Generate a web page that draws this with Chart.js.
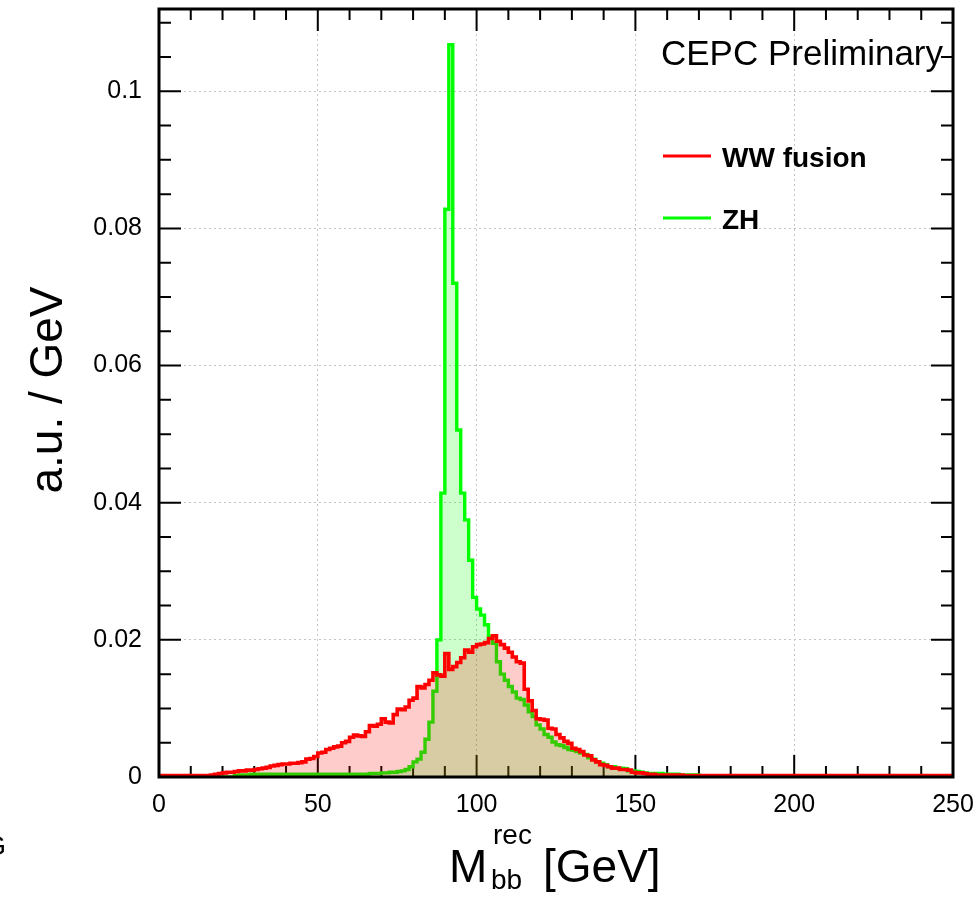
<!DOCTYPE html>
<html>
<head>
<meta charset="utf-8">
<script src="https://cdn.jsdelivr.net/npm/chart.js@4.4.0/dist/chart.umd.min.js"></script>
<style>
  html, body { margin: 0; padding: 0; background: #fff; }
</style>
</head>
<body>
<canvas id="myChart" width="980" height="898"></canvas>
<script>
// histogram: 200 bins of 1.25 GeV from 0 to 250 GeV, values in a.u./GeV
const binWidth = 1.25;

const wwFusion = [
  0.0002, 0.0002, 0.0002, 0.0002, 0.0002, 0.0002, 0.0002, 0.0002, 0.0002, 0.0002,
  0.0002, 0.0002, 0.0002, 0.0003, 0.0004, 0.0005, 0.0006, 0.0007, 0.0007, 0.0008,
  0.0009, 0.0009, 0.0010, 0.0010, 0.0011, 0.0012, 0.0013, 0.0014, 0.0016, 0.0017,
  0.0018, 0.0019, 0.0019, 0.0020, 0.0020, 0.0021, 0.0022, 0.0026, 0.0027, 0.0030,
  0.0035, 0.0036, 0.0040, 0.0042, 0.0044, 0.0045, 0.0050, 0.0052, 0.0058, 0.0061,
  0.0060, 0.0059, 0.0066, 0.0075, 0.0074, 0.0077, 0.0085, 0.0080, 0.0079, 0.0091,
  0.0099, 0.0098, 0.0102, 0.0112, 0.0115, 0.0132, 0.0130, 0.0135, 0.0141, 0.0152,
  0.0149, 0.0147, 0.0180, 0.0157, 0.0161, 0.0167, 0.0174, 0.0185, 0.0182, 0.0190,
  0.0193, 0.0194, 0.0196, 0.0202, 0.0206, 0.0198, 0.0193, 0.0188, 0.0182, 0.0175,
  0.0168, 0.0166, 0.0128, 0.0111, 0.0097, 0.0085, 0.0084, 0.0083, 0.0071, 0.0070,
  0.0062, 0.0057, 0.0052, 0.0049, 0.0042, 0.0040, 0.0037, 0.0032, 0.0031, 0.0025,
  0.0022, 0.0018, 0.0017, 0.0015, 0.0013, 0.0013, 0.0011, 0.0011, 0.0010, 0.0007,
  0.0006, 0.0006, 0.0005, 0.0004, 0.0004, 0.0003, 0.0003, 0.0003, 0.0003, 0.0003,
  0.0003, 0.0003, 0.0002, 0.0002, 0.0002, 0.0002, 0.0002, 0.0002, 0.0002, 0.0002,
  0.0002, 0.0002, 0.0002, 0.0002, 0.0002, 0.0002, 0.0002, 0.0002, 0.0002, 0.0002,
  0.0002, 0.0002, 0.0002, 0.0002, 0.0002, 0.0002, 0.0002, 0.0002, 0.0002, 0.0002,
  0.0002, 0.0002, 0.0002, 0.0002, 0.0002, 0.0002, 0.0002, 0.0002, 0.0002, 0.0002,
  0.0002, 0.0002, 0.0002, 0.0002, 0.0002, 0.0002, 0.0002, 0.0002, 0.0002, 0.0002,
  0.0002, 0.0002, 0.0002, 0.0002, 0.0002, 0.0002, 0.0002, 0.0002, 0.0002, 0.0002,
  0.0002, 0.0002, 0.0002, 0.0002, 0.0002, 0.0002, 0.0002, 0.0002, 0.0002, 0.0002
];

const zh = [
  0, 0, 0, 0, 0, 0, 0, 0, 0, 0,
  0, 0, 0, 0, 0, 0, 0, 0, 0, 0.0002,
  0.0003, 0.0003, 0.0003, 0.0004, 0.0004, 0.0004, 0.0004, 0.0004, 0.0004, 0.0004,
  0.0004, 0.0004, 0.0004, 0.0004, 0.0004, 0.0004, 0.0004, 0.0004, 0.0004, 0.0004,
  0.0004, 0.0004, 0.0004, 0.0004, 0.0004, 0.0004, 0.0004, 0.0004, 0.0004, 0.0004,
  0.0004, 0.0004, 0.0004, 0.0005, 0.0005, 0.0005, 0.0006, 0.0006, 0.0007, 0.0007,
  0.0008, 0.0009, 0.0011, 0.0015, 0.0022, 0.0026, 0.0036, 0.0055, 0.0080, 0.0125,
  0.0200, 0.0414, 0.0828, 0.1068, 0.0720, 0.0506, 0.0414, 0.0375, 0.0316, 0.0262,
  0.0245, 0.0236, 0.0222, 0.0205, 0.0195, 0.0168, 0.0150, 0.0141, 0.0132, 0.0124,
  0.0115, 0.0113, 0.0105, 0.0095, 0.0088, 0.0076, 0.0070, 0.0062, 0.0058, 0.0051,
  0.0047, 0.0046, 0.0043, 0.0040, 0.0039, 0.0037, 0.0035, 0.0033, 0.0028, 0.0026,
  0.0022, 0.0020, 0.0018, 0.0015, 0.0015, 0.0013, 0.0013, 0.0012, 0.0009, 0.0009,
  0.0008, 0.0007, 0.0006, 0.0005, 0.0005, 0.0005, 0.0005, 0.0004, 0.0004, 0.0004,
  0.0004, 0.0003, 0.0003, 0.0003, 0.0003, 0.0003, 0.0002, 0.0002, 0.0002, 0.0002,
  0.0002, 0.0001, 0.0001, 0.0001, 0.0001, 0.0001, 0.0001, 0.0001, 0.0001, 0.0001,
  0.0001, 0, 0, 0, 0, 0, 0, 0, 0, 0,
  0, 0, 0, 0, 0, 0, 0, 0, 0, 0,
  0, 0, 0, 0, 0, 0, 0, 0, 0, 0,
  0, 0, 0, 0, 0, 0, 0, 0, 0, 0,
  0, 0, 0, 0, 0, 0, 0, 0, 0, 0
];

const xTickLabels = [0, 50, 100, 150, 200, 250];
const yTickLabels = [0, 0.02, 0.04, 0.06, 0.08, 0.1];

const FONT = 'Liberation Sans, Arial, sans-serif';

// bin low edges + the closing edge, for a step line
function toSteps(values) {
  const pts = values.map((v, i) => ({ x: i * binWidth, y: v }));
  pts.push({ x: values.length * binWidth, y: values[values.length - 1] });
  return pts;
}

// keep the plot box fixed, no extra room for the edge labels
function fixSize(scale, w, h) {
  if (w) scale.width = w;
  if (h) scale.height = h;
  scale.paddingLeft = 0;
  scale.paddingRight = 0;
  scale.paddingTop = 0;
  scale.paddingBottom = 0;
}

// ROOT style: ticks inside on all four sides, thick frame, extra texts
const rootFrame = {
  id: 'rootFrame',
  beforeDatasetsDraw(chart) {
    const { ctx, chartArea: a, scales: { x, y } } = chart;
    ctx.save();
    ctx.strokeStyle = '#000';
    ctx.lineWidth = 2;
    ctx.beginPath();
    for (let v = 0; v <= 250; v += 10) {
      const px = x.getPixelForValue(v);
      const len = v % 50 === 0 ? 22 : 11;
      ctx.moveTo(px, a.bottom); ctx.lineTo(px, a.bottom - len);
      ctx.moveTo(px, a.top); ctx.lineTo(px, a.top + len);
    }
    for (let k = 0; k <= 22; k++) {
      const py = y.getPixelForValue(k * 0.005);
      const len = k % 4 === 0 ? 22 : 12;
      ctx.moveTo(a.left, py); ctx.lineTo(a.left + len, py);
      ctx.moveTo(a.right, py); ctx.lineTo(a.right - len, py);
    }
    ctx.stroke();
    ctx.restore();
  },
  afterDraw(chart) {
    const { ctx, chartArea: a } = chart;
    ctx.save();
    ctx.strokeStyle = '#000';
    ctx.lineWidth = 3;
    ctx.strokeRect(a.left, a.top, a.right - a.left, a.bottom - a.top);

    ctx.fillStyle = '#000';
    ctx.textAlign = 'left';
    ctx.textBaseline = 'alphabetic';
    ctx.font = '35px ' + FONT;
    ctx.fillText('CEPC Preliminary', 661, 65);

    // legend
    ctx.lineWidth = 3;
    ctx.strokeStyle = '#ff0000';
    ctx.beginPath(); ctx.moveTo(663, 156); ctx.lineTo(711, 156); ctx.stroke();
    ctx.strokeStyle = '#00ff00';
    ctx.beginPath(); ctx.moveTo(663, 218); ctx.lineTo(711, 218); ctx.stroke();
    ctx.font = 'bold 28px ' + FONT;
    ctx.fillText('WW fusion', 722, 167);
    ctx.fillText('ZH', 722, 229);

    // x title with super/subscript
    ctx.font = '46px ' + FONT;
    ctx.fillText('M', 449, 882);
    ctx.fillText('[GeV]', 543, 882);
    ctx.font = '28px ' + FONT;
    ctx.fillText('rec', 493, 844);
    ctx.fillText('bb', 491, 889);

    // y title
    ctx.save();
    ctx.translate(62, 390);
    ctx.rotate(-Math.PI / 2);
    ctx.textAlign = 'center';
    ctx.font = '46px ' + FONT;
    ctx.fillText('a.u. / GeV', 0, 0);
    ctx.restore();

    // clipped leftover glyph at the left edge
    ctx.font = '28px ' + FONT;
    ctx.textAlign = 'right';
    ctx.fillText('G', 6, 855);
    ctx.restore();
  }
};

const ctx = document.getElementById('myChart').getContext('2d');

const myChart = new Chart(ctx, {
  type: 'line',
  data: {
    datasets: [
      {
        label: 'WW fusion',
        data: toSteps(wwFusion),
        borderColor: '#ff0000',
        backgroundColor: 'rgba(255, 0, 0, 0.2)',
        borderWidth: 3.6,
        fill: 'origin',
        stepped: 'before',
        pointRadius: 0
      },
      {
        label: 'ZH',
        data: toSteps(zh),
        borderColor: '#00ff00',
        backgroundColor: 'rgba(0, 255, 0, 0.2)',
        borderWidth: 3.4,
        fill: 'origin',
        stepped: 'before',
        pointRadius: 0
      }
    ]
  },
  options: {
    responsive: false,
    animation: false,
    devicePixelRatio: 1,
    layout: { padding: { top: 9, right: 27, left: 0, bottom: 0 } },
    plugins: {
      legend: { display: false },
      tooltip: { enabled: false }
    },
    scales: {
      x: {
        type: 'linear',
        min: 0,
        max: 250,
        afterBuildTicks: (scale) => { scale.ticks = xTickLabels.map(v => ({ value: v })); },
        ticks: {
          color: '#000',
          font: { family: FONT, size: 25 },
          padding: 13,
          maxRotation: 0,
          autoSkip: false
        },
        grid: { color: '#c4c4c4', lineWidth: 1, drawTicks: false },
        border: { display: false, dash: [2, 3] },
        afterFit: (scale) => fixSize(scale, 0, 121)
      },
      y: {
        min: 0,
        max: 0.112,
        afterBuildTicks: (scale) => { scale.ticks = yTickLabels.map(v => ({ value: v })); },
        ticks: {
          color: '#000',
          font: { family: FONT, size: 25 },
          padding: 17,
          callback: (v) => String(Number(v.toFixed(3)))
        },
        grid: { color: '#c4c4c4', lineWidth: 1, drawTicks: false },
        border: { display: false, dash: [2, 3] },
        afterFit: (scale) => fixSize(scale, 159, 0)
      }
    }
  },
  plugins: [rootFrame]
});
</script>
</body>
</html>
